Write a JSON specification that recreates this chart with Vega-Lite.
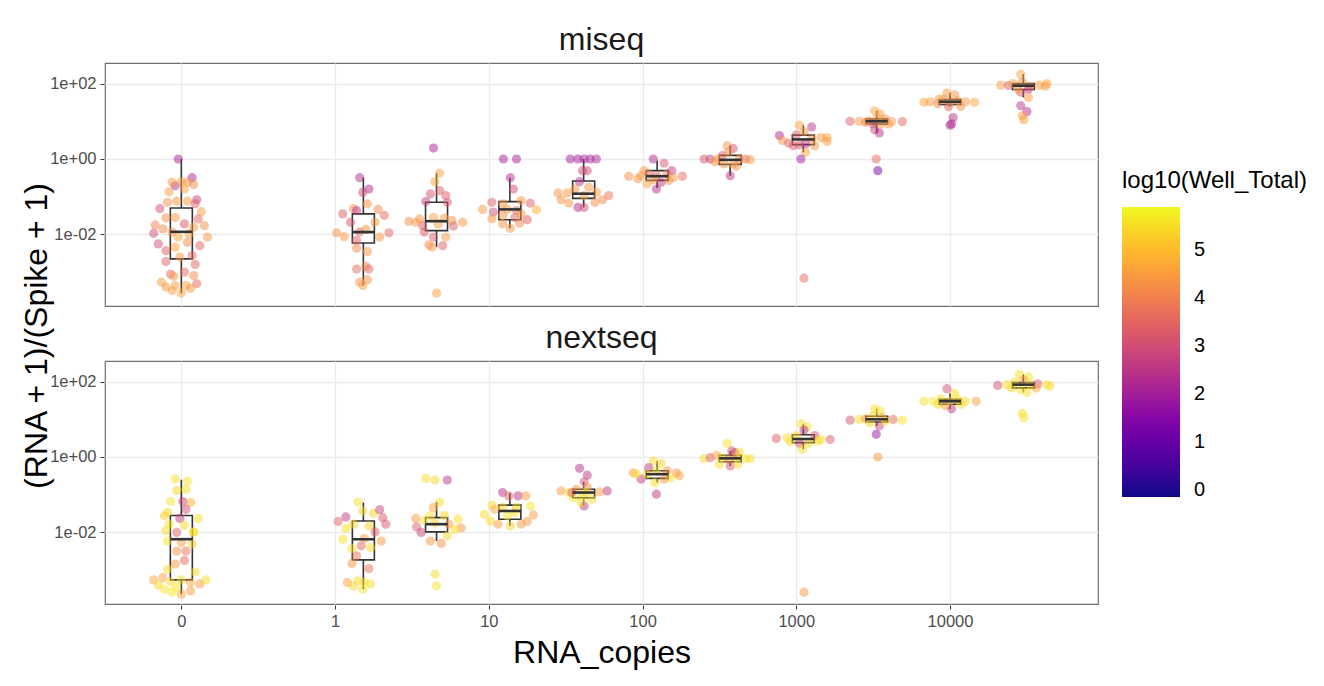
{
  "$schema": "https://vega.github.io/schema/vega-lite/v6.json",
  "padding": {"left": 20, "top": 23, "right": 5, "bottom": 5},
  "background": "white",
  "title": {"text": "(RNA + 1)/(Spike + 1)", "orient": "left", "anchor": "middle", "fontSize": 32, "fontWeight": "normal", "color": "#000", "offset": -4, "dx": 10},
  "data": {"values": [
    {"seq":"miseq","x":-1.0,"lo":0.000275,"q1":0.00224,"med":0.0117,"q3":0.05,"hi":1.0},
    {"seq":"miseq","x":0.184,"lo":0.00044,"q1":0.0059,"med":0.0115,"q3":0.035,"hi":0.32},
    {"seq":"miseq","x":0.66,"lo":0.0046,"q1":0.0126,"med":0.0224,"q3":0.071,"hi":0.42},
    {"seq":"miseq","x":1.137,"lo":0.0145,"q1":0.0245,"med":0.046,"q3":0.074,"hi":0.32},
    {"seq":"miseq","x":1.617,"lo":0.052,"q1":0.09,"med":0.12,"q3":0.26,"hi":1.0},
    {"seq":"miseq","x":2.095,"lo":0.17,"q1":0.27,"med":0.35,"q3":0.49,"hi":0.9},
    {"seq":"miseq","x":2.57,"lo":0.36,"q1":0.72,"med":0.95,"q3":1.25,"hi":2.25},
    {"seq":"miseq","x":3.046,"lo":1.5,"q1":2.4,"med":3.3,"q3":4.3,"hi":7.9},
    {"seq":"miseq","x":3.523,"lo":4.9,"q1":8.5,"med":10,"q3":11.5,"hi":19},
    {"seq":"miseq","x":4.0,"lo":24.5,"q1":28,"med":33,"q3":38,"hi":56},
    {"seq":"miseq","x":4.477,"lo":43,"q1":70,"med":88,"q3":100,"hi":178},
    {"seq":"nextseq","x":-1.0,"lo":0.00023,"q1":0.00055,"med":0.0066,"q3":0.028,"hi":0.25},
    {"seq":"nextseq","x":0.184,"lo":0.00031,"q1":0.00187,"med":0.0066,"q3":0.02,"hi":0.062},
    {"seq":"nextseq","x":0.66,"lo":0.0059,"q1":0.0103,"med":0.0165,"q3":0.0247,"hi":0.064},
    {"seq":"nextseq","x":1.137,"lo":0.0148,"q1":0.0224,"med":0.037,"q3":0.053,"hi":0.11},
    {"seq":"nextseq","x":1.617,"lo":0.05,"q1":0.083,"med":0.114,"q3":0.139,"hi":0.22},
    {"seq":"nextseq","x":2.095,"lo":0.21,"q1":0.27,"med":0.35,"q3":0.43,"hi":0.78},
    {"seq":"nextseq","x":2.57,"lo":0.58,"q1":0.75,"med":0.92,"q3":1.1,"hi":1.45},
    {"seq":"nextseq","x":3.046,"lo":1.6,"q1":2.4,"med":3.0,"q3":3.9,"hi":7.6},
    {"seq":"nextseq","x":3.523,"lo":6.6,"q1":8.5,"med":10,"q3":12,"hi":19},
    {"seq":"nextseq","x":4.0,"lo":19,"q1":25,"med":30,"q3":34,"hi":49},
    {"seq":"nextseq","x":4.477,"lo":52,"q1":68,"med":83,"q3":95,"hi":155},

    {"seq":"miseq","x":-1.02,"ratio":1.0,"lwt":2.0},
    {"seq":"miseq","x":-0.93,"ratio":0.32,"lwt":2.2},
    {"seq":"miseq","x":-1.04,"ratio":0.195,"lwt":2.3},
    {"seq":"miseq","x":-1.06,"ratio":0.24,"lwt":4.4},
    {"seq":"miseq","x":-1.0,"ratio":0.25,"lwt":4.6},
    {"seq":"miseq","x":-0.96,"ratio":0.24,"lwt":4.3},
    {"seq":"miseq","x":-0.92,"ratio":0.21,"lwt":4.2},
    {"seq":"miseq","x":-1.08,"ratio":0.135,"lwt":4.5},
    {"seq":"miseq","x":-0.98,"ratio":0.16,"lwt":4.6},
    {"seq":"miseq","x":-0.9,"ratio":0.083,"lwt":2.7},
    {"seq":"miseq","x":-1.09,"ratio":0.071,"lwt":4.3},
    {"seq":"miseq","x":-1.03,"ratio":0.076,"lwt":4.4},
    {"seq":"miseq","x":-0.96,"ratio":0.076,"lwt":4.5},
    {"seq":"miseq","x":-0.91,"ratio":0.065,"lwt":3.3},
    {"seq":"miseq","x":-1.14,"ratio":0.048,"lwt":3.0},
    {"seq":"miseq","x":-0.87,"ratio":0.04,"lwt":4.5},
    {"seq":"miseq","x":-1.1,"ratio":0.0275,"lwt":4.2},
    {"seq":"miseq","x":-1.04,"ratio":0.028,"lwt":4.4},
    {"seq":"miseq","x":-0.98,"ratio":0.019,"lwt":3.2},
    {"seq":"miseq","x":-0.89,"ratio":0.0257,"lwt":3.6},
    {"seq":"miseq","x":-1.17,"ratio":0.0178,"lwt":4.0},
    {"seq":"miseq","x":-0.85,"ratio":0.017,"lwt":4.3},
    {"seq":"miseq","x":-0.92,"ratio":0.0155,"lwt":4.5},
    {"seq":"miseq","x":-1.18,"ratio":0.0107,"lwt":3.0},
    {"seq":"miseq","x":-1.12,"ratio":0.014,"lwt":4.2},
    {"seq":"miseq","x":-0.83,"ratio":0.0085,"lwt":4.4},
    {"seq":"miseq","x":-1.15,"ratio":0.0056,"lwt":3.0},
    {"seq":"miseq","x":-1.1,"ratio":0.0037,"lwt":3.4},
    {"seq":"miseq","x":-1.04,"ratio":0.0046,"lwt":4.6},
    {"seq":"miseq","x":-0.96,"ratio":0.0062,"lwt":4.2},
    {"seq":"miseq","x":-0.88,"ratio":0.005,"lwt":3.5},
    {"seq":"miseq","x":-1.1,"ratio":0.0019,"lwt":3.4},
    {"seq":"miseq","x":-1.01,"ratio":0.0025,"lwt":4.4},
    {"seq":"miseq","x":-0.93,"ratio":0.00275,"lwt":3.6},
    {"seq":"miseq","x":-0.91,"ratio":0.0016,"lwt":3.5},
    {"seq":"miseq","x":-1.07,"ratio":0.00089,"lwt":3.6},
    {"seq":"miseq","x":-0.98,"ratio":0.001,"lwt":3.6},
    {"seq":"miseq","x":-0.92,"ratio":0.00081,"lwt":4.2},
    {"seq":"miseq","x":-1.05,"ratio":0.00078,"lwt":4.4},
    {"seq":"miseq","x":-1.13,"ratio":0.00054,"lwt":4.5},
    {"seq":"miseq","x":-1.1,"ratio":0.0004,"lwt":4.4},
    {"seq":"miseq","x":-1.04,"ratio":0.00044,"lwt":4.5},
    {"seq":"miseq","x":-0.97,"ratio":0.00044,"lwt":4.6},
    {"seq":"miseq","x":-0.9,"ratio":0.00049,"lwt":3.6},
    {"seq":"miseq","x":-1.06,"ratio":0.00032,"lwt":4.5},
    {"seq":"miseq","x":-1.0,"ratio":0.00028,"lwt":4.6},
    {"seq":"miseq","x":-0.94,"ratio":0.00037,"lwt":4.4},
    {"seq":"miseq","x":-1.02,"ratio":0.0085,"lwt":4.6},
    {"seq":"miseq","x":-1.06,"ratio":0.0115,"lwt":4.3},
    {"seq":"miseq","x":-0.95,"ratio":0.0103,"lwt":4.4},

    {"seq":"miseq","x":0.16,"ratio":0.32,"lwt":2.3},
    {"seq":"miseq","x":0.22,"ratio":0.16,"lwt":2.2},
    {"seq":"miseq","x":0.18,"ratio":0.13,"lwt":3.0},
    {"seq":"miseq","x":0.21,"ratio":0.065,"lwt":4.3},
    {"seq":"miseq","x":0.12,"ratio":0.048,"lwt":4.3},
    {"seq":"miseq","x":0.05,"ratio":0.035,"lwt":3.3},
    {"seq":"miseq","x":0.14,"ratio":0.043,"lwt":2.5},
    {"seq":"miseq","x":0.28,"ratio":0.046,"lwt":4.2},
    {"seq":"miseq","x":0.32,"ratio":0.032,"lwt":3.6},
    {"seq":"miseq","x":0.1,"ratio":0.021,"lwt":3.2},
    {"seq":"miseq","x":0.26,"ratio":0.021,"lwt":4.4},
    {"seq":"miseq","x":0.01,"ratio":0.011,"lwt":4.3},
    {"seq":"miseq","x":0.06,"ratio":0.0087,"lwt":4.4},
    {"seq":"miseq","x":0.16,"ratio":0.0115,"lwt":3.5},
    {"seq":"miseq","x":0.2,"ratio":0.0135,"lwt":4.4},
    {"seq":"miseq","x":0.35,"ratio":0.011,"lwt":3.5},
    {"seq":"miseq","x":0.29,"ratio":0.0085,"lwt":4.4},
    {"seq":"miseq","x":0.14,"ratio":0.0069,"lwt":3.4},
    {"seq":"miseq","x":0.14,"ratio":0.0043,"lwt":4.2},
    {"seq":"miseq","x":0.21,"ratio":0.0035,"lwt":4.4},
    {"seq":"miseq","x":0.14,"ratio":0.0012,"lwt":3.6},
    {"seq":"miseq","x":0.2,"ratio":0.00144,"lwt":4.2},
    {"seq":"miseq","x":0.22,"ratio":0.0012,"lwt":3.5},
    {"seq":"miseq","x":0.16,"ratio":0.00054,"lwt":4.4},
    {"seq":"miseq","x":0.21,"ratio":0.00063,"lwt":4.3},
    {"seq":"miseq","x":0.18,"ratio":0.00044,"lwt":4.5},

    {"seq":"miseq","x":0.64,"ratio":1.95,"lwt":2.1},
    {"seq":"miseq","x":0.68,"ratio":0.42,"lwt":4.6},
    {"seq":"miseq","x":0.65,"ratio":0.25,"lwt":4.6},
    {"seq":"miseq","x":0.68,"ratio":0.145,"lwt":3.4},
    {"seq":"miseq","x":0.62,"ratio":0.118,"lwt":3.2},
    {"seq":"miseq","x":0.72,"ratio":0.107,"lwt":3.3},
    {"seq":"miseq","x":0.59,"ratio":0.074,"lwt":2.7},
    {"seq":"miseq","x":0.73,"ratio":0.071,"lwt":3.2},
    {"seq":"miseq","x":0.64,"ratio":0.028,"lwt":4.5},
    {"seq":"miseq","x":0.48,"ratio":0.022,"lwt":4.2},
    {"seq":"miseq","x":0.55,"ratio":0.0257,"lwt":4.3},
    {"seq":"miseq","x":0.71,"ratio":0.027,"lwt":4.5},
    {"seq":"miseq","x":0.76,"ratio":0.0234,"lwt":4.3},
    {"seq":"miseq","x":0.83,"ratio":0.021,"lwt":4.4},
    {"seq":"miseq","x":0.57,"ratio":0.017,"lwt":3.4},
    {"seq":"miseq","x":0.67,"ratio":0.019,"lwt":4.4},
    {"seq":"miseq","x":0.77,"ratio":0.0166,"lwt":3.4},
    {"seq":"miseq","x":0.58,"ratio":0.0115,"lwt":3.3},
    {"seq":"miseq","x":0.64,"ratio":0.0085,"lwt":3.3},
    {"seq":"miseq","x":0.72,"ratio":0.0085,"lwt":4.5},
    {"seq":"miseq","x":0.61,"ratio":0.0053,"lwt":4.2},
    {"seq":"miseq","x":0.63,"ratio":0.0046,"lwt":4.4},
    {"seq":"miseq","x":0.7,"ratio":0.005,"lwt":3.4},
    {"seq":"miseq","x":0.66,"ratio":0.000275,"lwt":4.5},
    {"seq":"miseq","x":0.525,"ratio":0.021,"lwt":4.4},

    {"seq":"miseq","x":1.095,"ratio":1.0,"lwt":2.0},
    {"seq":"miseq","x":1.18,"ratio":1.0,"lwt":2.1},
    {"seq":"miseq","x":1.14,"ratio":0.32,"lwt":2.3},
    {"seq":"miseq","x":1.16,"ratio":0.16,"lwt":3.0},
    {"seq":"miseq","x":1.02,"ratio":0.071,"lwt":3.4},
    {"seq":"miseq","x":1.09,"ratio":0.065,"lwt":4.3},
    {"seq":"miseq","x":1.21,"ratio":0.079,"lwt":4.4},
    {"seq":"miseq","x":1.27,"ratio":0.067,"lwt":3.4},
    {"seq":"miseq","x":0.96,"ratio":0.046,"lwt":4.4},
    {"seq":"miseq","x":1.03,"ratio":0.039,"lwt":3.0},
    {"seq":"miseq","x":1.12,"ratio":0.046,"lwt":4.5},
    {"seq":"miseq","x":1.18,"ratio":0.043,"lwt":3.5},
    {"seq":"miseq","x":1.31,"ratio":0.045,"lwt":4.8},
    {"seq":"miseq","x":1.02,"ratio":0.026,"lwt":4.4},
    {"seq":"miseq","x":1.09,"ratio":0.032,"lwt":4.3},
    {"seq":"miseq","x":1.17,"ratio":0.028,"lwt":3.5},
    {"seq":"miseq","x":1.25,"ratio":0.0245,"lwt":3.4},
    {"seq":"miseq","x":1.09,"ratio":0.019,"lwt":4.4},
    {"seq":"miseq","x":1.14,"ratio":0.0145,"lwt":4.4},
    {"seq":"miseq","x":1.2,"ratio":0.02,"lwt":4.2},
    {"seq":"miseq","x":1.21,"ratio":0.035,"lwt":4.5},

    {"seq":"miseq","x":1.53,"ratio":1.0,"lwt":2.0},
    {"seq":"miseq","x":1.58,"ratio":1.0,"lwt":2.0},
    {"seq":"miseq","x":1.62,"ratio":1.0,"lwt":2.1},
    {"seq":"miseq","x":1.66,"ratio":1.0,"lwt":2.0},
    {"seq":"miseq","x":1.7,"ratio":1.0,"lwt":2.2},
    {"seq":"miseq","x":1.61,"ratio":0.49,"lwt":2.8},
    {"seq":"miseq","x":1.64,"ratio":0.49,"lwt":3.0},
    {"seq":"miseq","x":1.59,"ratio":0.25,"lwt":2.4},
    {"seq":"miseq","x":1.65,"ratio":0.178,"lwt":4.4},
    {"seq":"miseq","x":1.56,"ratio":0.16,"lwt":4.3},
    {"seq":"miseq","x":1.45,"ratio":0.126,"lwt":4.3},
    {"seq":"miseq","x":1.51,"ratio":0.126,"lwt":4.4},
    {"seq":"miseq","x":1.7,"ratio":0.13,"lwt":4.5},
    {"seq":"miseq","x":1.78,"ratio":0.107,"lwt":3.8},
    {"seq":"miseq","x":1.47,"ratio":0.083,"lwt":4.3},
    {"seq":"miseq","x":1.52,"ratio":0.068,"lwt":4.4},
    {"seq":"miseq","x":1.62,"ratio":0.107,"lwt":4.6},
    {"seq":"miseq","x":1.69,"ratio":0.071,"lwt":4.3},
    {"seq":"miseq","x":1.58,"ratio":0.052,"lwt":2.3},
    {"seq":"miseq","x":1.62,"ratio":0.052,"lwt":3.0},
    {"seq":"miseq","x":1.74,"ratio":0.083,"lwt":4.2},

    {"seq":"miseq","x":2.07,"ratio":1.0,"lwt":2.2},
    {"seq":"miseq","x":2.14,"ratio":0.77,"lwt":3.2},
    {"seq":"miseq","x":2.01,"ratio":0.49,"lwt":4.4},
    {"seq":"miseq","x":1.91,"ratio":0.35,"lwt":4.3},
    {"seq":"miseq","x":1.97,"ratio":0.3,"lwt":4.3},
    {"seq":"miseq","x":2.04,"ratio":0.4,"lwt":3.6},
    {"seq":"miseq","x":2.09,"ratio":0.36,"lwt":3.5},
    {"seq":"miseq","x":2.16,"ratio":0.4,"lwt":4.2},
    {"seq":"miseq","x":2.19,"ratio":0.49,"lwt":2.7},
    {"seq":"miseq","x":2.26,"ratio":0.35,"lwt":3.6},
    {"seq":"miseq","x":2.03,"ratio":0.22,"lwt":4.5},
    {"seq":"miseq","x":2.09,"ratio":0.16,"lwt":2.4},
    {"seq":"miseq","x":2.12,"ratio":0.24,"lwt":2.6},
    {"seq":"miseq","x":2.17,"ratio":0.27,"lwt":4.3},
    {"seq":"miseq","x":1.99,"ratio":0.36,"lwt":4.5},
    {"seq":"miseq","x":2.07,"ratio":0.28,"lwt":4.5},
    {"seq":"miseq","x":2.2,"ratio":0.32,"lwt":4.4},

    {"seq":"miseq","x":2.4,"ratio":1.0,"lwt":3.2},
    {"seq":"miseq","x":2.44,"ratio":1.0,"lwt":2.8},
    {"seq":"miseq","x":2.47,"ratio":0.85,"lwt":4.3},
    {"seq":"miseq","x":2.52,"ratio":1.23,"lwt":3.4},
    {"seq":"miseq","x":2.55,"ratio":2.25,"lwt":4.4},
    {"seq":"miseq","x":2.59,"ratio":1.9,"lwt":3.2},
    {"seq":"miseq","x":2.56,"ratio":1.5,"lwt":4.3},
    {"seq":"miseq","x":2.53,"ratio":0.74,"lwt":4.4},
    {"seq":"miseq","x":2.59,"ratio":0.74,"lwt":4.5},
    {"seq":"miseq","x":2.63,"ratio":1.0,"lwt":4.4},
    {"seq":"miseq","x":2.67,"ratio":1.0,"lwt":3.6},
    {"seq":"miseq","x":2.7,"ratio":0.96,"lwt":4.4},
    {"seq":"miseq","x":2.57,"ratio":0.36,"lwt":2.6},
    {"seq":"miseq","x":2.49,"ratio":1.0,"lwt":4.5},
    {"seq":"miseq","x":2.61,"ratio":0.64,"lwt":4.3},

    {"seq":"miseq","x":3.02,"ratio":7.9,"lwt":4.6},
    {"seq":"miseq","x":3.1,"ratio":7.1,"lwt":2.5},
    {"seq":"miseq","x":2.89,"ratio":4.2,"lwt":2.2},
    {"seq":"miseq","x":2.91,"ratio":3.1,"lwt":4.4},
    {"seq":"miseq","x":2.95,"ratio":2.65,"lwt":3.4},
    {"seq":"miseq","x":3.0,"ratio":4.35,"lwt":3.3},
    {"seq":"miseq","x":3.05,"ratio":5.3,"lwt":4.4},
    {"seq":"miseq","x":3.1,"ratio":3.5,"lwt":4.3},
    {"seq":"miseq","x":3.16,"ratio":3.7,"lwt":4.4},
    {"seq":"miseq","x":3.2,"ratio":3.7,"lwt":4.6},
    {"seq":"miseq","x":3.2,"ratio":2.9,"lwt":4.4},
    {"seq":"miseq","x":3.02,"ratio":2.35,"lwt":3.2},
    {"seq":"miseq","x":3.06,"ratio":2.5,"lwt":2.5},
    {"seq":"miseq","x":2.98,"ratio":2.25,"lwt":3.3},
    {"seq":"miseq","x":3.12,"ratio":2.25,"lwt":4.4},
    {"seq":"miseq","x":3.06,"ratio":1.5,"lwt":4.6},
    {"seq":"miseq","x":3.03,"ratio":1.0,"lwt":1.9},
    {"seq":"miseq","x":3.05,"ratio":0.00069,"lwt":3.6},

    {"seq":"miseq","x":3.51,"ratio":19,"lwt":4.6},
    {"seq":"miseq","x":3.545,"ratio":15.5,"lwt":4.5},
    {"seq":"miseq","x":3.35,"ratio":10,"lwt":3.3},
    {"seq":"miseq","x":3.41,"ratio":10,"lwt":4.5},
    {"seq":"miseq","x":3.47,"ratio":10.2,"lwt":4.3},
    {"seq":"miseq","x":3.525,"ratio":12.2,"lwt":4.5},
    {"seq":"miseq","x":3.58,"ratio":11.5,"lwt":4.3},
    {"seq":"miseq","x":3.62,"ratio":9.8,"lwt":4.5},
    {"seq":"miseq","x":3.69,"ratio":9.8,"lwt":3.6},
    {"seq":"miseq","x":3.5,"ratio":8.5,"lwt":3.3},
    {"seq":"miseq","x":3.51,"ratio":6.0,"lwt":2.9},
    {"seq":"miseq","x":3.54,"ratio":4.9,"lwt":2.4},
    {"seq":"miseq","x":3.55,"ratio":8.5,"lwt":4.4},
    {"seq":"miseq","x":3.45,"ratio":9.3,"lwt":4.2},
    {"seq":"miseq","x":3.52,"ratio":1.0,"lwt":3.6},
    {"seq":"miseq","x":3.53,"ratio":0.49,"lwt":1.2},
    {"seq":"miseq","x":3.6,"ratio":8.5,"lwt":4.4},

    {"seq":"miseq","x":3.98,"ratio":56,"lwt":4.5},
    {"seq":"miseq","x":4.03,"ratio":50,"lwt":4.4},
    {"seq":"miseq","x":3.83,"ratio":32,"lwt":4.6},
    {"seq":"miseq","x":3.87,"ratio":33,"lwt":4.5},
    {"seq":"miseq","x":3.92,"ratio":29,"lwt":4.2},
    {"seq":"miseq","x":3.96,"ratio":39,"lwt":4.4},
    {"seq":"miseq","x":4.0,"ratio":32,"lwt":4.6},
    {"seq":"miseq","x":4.05,"ratio":35,"lwt":4.3},
    {"seq":"miseq","x":4.1,"ratio":33,"lwt":4.4},
    {"seq":"miseq","x":4.16,"ratio":32,"lwt":4.6},
    {"seq":"miseq","x":3.99,"ratio":24.5,"lwt":3.4},
    {"seq":"miseq","x":4.07,"ratio":25,"lwt":4.3},
    {"seq":"miseq","x":4.02,"ratio":12.5,"lwt":2.4},
    {"seq":"miseq","x":4.0,"ratio":7.9,"lwt":2.2},
    {"seq":"miseq","x":4.01,"ratio":8.5,"lwt":2.3},
    {"seq":"miseq","x":3.93,"ratio":39,"lwt":4.5},

    {"seq":"miseq","x":4.46,"ratio":178,"lwt":4.6},
    {"seq":"miseq","x":4.33,"ratio":91,"lwt":4.5},
    {"seq":"miseq","x":4.38,"ratio":89,"lwt":3.3},
    {"seq":"miseq","x":4.41,"ratio":100,"lwt":4.5},
    {"seq":"miseq","x":4.47,"ratio":112,"lwt":4.4},
    {"seq":"miseq","x":4.52,"ratio":85,"lwt":4.3},
    {"seq":"miseq","x":4.58,"ratio":91,"lwt":4.5},
    {"seq":"miseq","x":4.62,"ratio":85,"lwt":4.4},
    {"seq":"miseq","x":4.63,"ratio":100,"lwt":4.6},
    {"seq":"miseq","x":4.51,"ratio":71,"lwt":2.5},
    {"seq":"miseq","x":4.46,"ratio":59,"lwt":3.2},
    {"seq":"miseq","x":4.51,"ratio":43,"lwt":4.4},
    {"seq":"miseq","x":4.46,"ratio":26,"lwt":2.5},
    {"seq":"miseq","x":4.5,"ratio":18,"lwt":2.3},
    {"seq":"miseq","x":4.47,"ratio":14,"lwt":4.6},
    {"seq":"miseq","x":4.48,"ratio":11,"lwt":4.5},
    {"seq":"miseq","x":4.44,"ratio":71,"lwt":4.4},

    {"seq":"nextseq","x":-1.04,"ratio":0.26,"lwt":5.5},
    {"seq":"nextseq","x":-0.96,"ratio":0.23,"lwt":5.6},
    {"seq":"nextseq","x":-1.03,"ratio":0.13,"lwt":5.4},
    {"seq":"nextseq","x":-0.97,"ratio":0.14,"lwt":5.5},
    {"seq":"nextseq","x":-1.07,"ratio":0.066,"lwt":5.6},
    {"seq":"nextseq","x":-0.99,"ratio":0.066,"lwt":2.8},
    {"seq":"nextseq","x":-0.94,"ratio":0.062,"lwt":4.8},
    {"seq":"nextseq","x":-0.97,"ratio":0.041,"lwt":3.0},
    {"seq":"nextseq","x":-1.11,"ratio":0.0275,"lwt":5.3},
    {"seq":"nextseq","x":-1.01,"ratio":0.0234,"lwt":2.6},
    {"seq":"nextseq","x":-0.89,"ratio":0.0234,"lwt":5.5},
    {"seq":"nextseq","x":-1.08,"ratio":0.0165,"lwt":5.6},
    {"seq":"nextseq","x":-0.98,"ratio":0.0155,"lwt":5.4},
    {"seq":"nextseq","x":-1.1,"ratio":0.011,"lwt":5.5},
    {"seq":"nextseq","x":-1.03,"ratio":0.01,"lwt":3.4},
    {"seq":"nextseq","x":-0.92,"ratio":0.0103,"lwt":5.5},
    {"seq":"nextseq","x":-1.09,"ratio":0.0059,"lwt":5.6},
    {"seq":"nextseq","x":-1.0,"ratio":0.0054,"lwt":4.5},
    {"seq":"nextseq","x":-0.93,"ratio":0.0049,"lwt":5.3},
    {"seq":"nextseq","x":-1.03,"ratio":0.0032,"lwt":4.3},
    {"seq":"nextseq","x":-0.97,"ratio":0.0032,"lwt":3.7},
    {"seq":"nextseq","x":-0.98,"ratio":0.0018,"lwt":3.6},
    {"seq":"nextseq","x":-1.04,"ratio":0.00144,"lwt":4.5},
    {"seq":"nextseq","x":-1.09,"ratio":0.00105,"lwt":5.5},
    {"seq":"nextseq","x":-0.91,"ratio":0.00089,"lwt":5.4},
    {"seq":"nextseq","x":-1.18,"ratio":0.00055,"lwt":4.6},
    {"seq":"nextseq","x":-1.12,"ratio":0.00063,"lwt":4.5},
    {"seq":"nextseq","x":-1.07,"ratio":0.00049,"lwt":5.4},
    {"seq":"nextseq","x":-1.0,"ratio":0.00055,"lwt":5.6},
    {"seq":"nextseq","x":-0.94,"ratio":0.00047,"lwt":4.6},
    {"seq":"nextseq","x":-0.88,"ratio":0.00043,"lwt":4.5},
    {"seq":"nextseq","x":-0.84,"ratio":0.00055,"lwt":5.5},
    {"seq":"nextseq","x":-1.11,"ratio":0.00031,"lwt":5.6},
    {"seq":"nextseq","x":-1.06,"ratio":0.00026,"lwt":5.7},
    {"seq":"nextseq","x":-1.0,"ratio":0.00023,"lwt":4.6},
    {"seq":"nextseq","x":-0.94,"ratio":0.00028,"lwt":4.5},
    {"seq":"nextseq","x":-1.15,"ratio":0.0004,"lwt":5.5},
    {"seq":"nextseq","x":-1.03,"ratio":0.00035,"lwt":5.6},
    {"seq":"nextseq","x":-1.09,"ratio":0.034,"lwt":5.4},
    {"seq":"nextseq","x":-0.92,"ratio":0.01,"lwt":5.6},

    {"seq":"nextseq","x":0.15,"ratio":0.064,"lwt":5.5},
    {"seq":"nextseq","x":0.18,"ratio":0.037,"lwt":5.4},
    {"seq":"nextseq","x":0.25,"ratio":0.032,"lwt":5.3},
    {"seq":"nextseq","x":0.29,"ratio":0.04,"lwt":2.8},
    {"seq":"nextseq","x":0.31,"ratio":0.0246,"lwt":3.3},
    {"seq":"nextseq","x":0.33,"ratio":0.0165,"lwt":3.2},
    {"seq":"nextseq","x":0.07,"ratio":0.0257,"lwt":2.6},
    {"seq":"nextseq","x":0.02,"ratio":0.0195,"lwt":3.5},
    {"seq":"nextseq","x":0.12,"ratio":0.0165,"lwt":5.4},
    {"seq":"nextseq","x":0.07,"ratio":0.0126,"lwt":5.5},
    {"seq":"nextseq","x":0.22,"ratio":0.0148,"lwt":5.4},
    {"seq":"nextseq","x":0.26,"ratio":0.0103,"lwt":3.4},
    {"seq":"nextseq","x":0.05,"ratio":0.0066,"lwt":5.5},
    {"seq":"nextseq","x":0.19,"ratio":0.0069,"lwt":4.6},
    {"seq":"nextseq","x":0.3,"ratio":0.0059,"lwt":4.4},
    {"seq":"nextseq","x":0.11,"ratio":0.0037,"lwt":5.6},
    {"seq":"nextseq","x":0.17,"ratio":0.0044,"lwt":3.5},
    {"seq":"nextseq","x":0.23,"ratio":0.004,"lwt":5.5},
    {"seq":"nextseq","x":0.14,"ratio":0.0024,"lwt":3.7},
    {"seq":"nextseq","x":0.11,"ratio":0.0015,"lwt":4.4},
    {"seq":"nextseq","x":0.22,"ratio":0.0011,"lwt":3.7},
    {"seq":"nextseq","x":0.08,"ratio":0.00047,"lwt":4.6},
    {"seq":"nextseq","x":0.15,"ratio":0.00052,"lwt":5.5},
    {"seq":"nextseq","x":0.19,"ratio":0.00047,"lwt":5.6},
    {"seq":"nextseq","x":0.23,"ratio":0.00043,"lwt":5.5},
    {"seq":"nextseq","x":0.18,"ratio":0.00031,"lwt":5.6},
    {"seq":"nextseq","x":0.12,"ratio":0.00038,"lwt":5.4},

    {"seq":"nextseq","x":0.59,"ratio":0.27,"lwt":5.5},
    {"seq":"nextseq","x":0.65,"ratio":0.245,"lwt":5.4},
    {"seq":"nextseq","x":0.73,"ratio":0.245,"lwt":2.5},
    {"seq":"nextseq","x":0.68,"ratio":0.064,"lwt":5.5},
    {"seq":"nextseq","x":0.64,"ratio":0.046,"lwt":4.6},
    {"seq":"nextseq","x":0.525,"ratio":0.0234,"lwt":4.5},
    {"seq":"nextseq","x":0.62,"ratio":0.028,"lwt":5.6},
    {"seq":"nextseq","x":0.71,"ratio":0.028,"lwt":5.5},
    {"seq":"nextseq","x":0.8,"ratio":0.0224,"lwt":5.5},
    {"seq":"nextseq","x":0.53,"ratio":0.014,"lwt":3.4},
    {"seq":"nextseq","x":0.56,"ratio":0.01,"lwt":2.8},
    {"seq":"nextseq","x":0.65,"ratio":0.018,"lwt":5.4},
    {"seq":"nextseq","x":0.74,"ratio":0.0165,"lwt":4.5},
    {"seq":"nextseq","x":0.82,"ratio":0.013,"lwt":4.4},
    {"seq":"nextseq","x":0.73,"ratio":0.0081,"lwt":5.5},
    {"seq":"nextseq","x":0.62,"ratio":0.0059,"lwt":4.4},
    {"seq":"nextseq","x":0.69,"ratio":0.0051,"lwt":4.3},
    {"seq":"nextseq","x":0.65,"ratio":0.00078,"lwt":5.5},
    {"seq":"nextseq","x":0.66,"ratio":0.00038,"lwt":5.6},
    {"seq":"nextseq","x":0.78,"ratio":0.012,"lwt":5.5},
    {"seq":"nextseq","x":0.58,"ratio":0.021,"lwt":5.6},

    {"seq":"nextseq","x":1.09,"ratio":0.114,"lwt":2.4},
    {"seq":"nextseq","x":1.19,"ratio":0.093,"lwt":2.5},
    {"seq":"nextseq","x":1.24,"ratio":0.093,"lwt":4.5},
    {"seq":"nextseq","x":1.13,"ratio":0.093,"lwt":3.5},
    {"seq":"nextseq","x":1.02,"ratio":0.053,"lwt":5.5},
    {"seq":"nextseq","x":0.97,"ratio":0.03,"lwt":5.5},
    {"seq":"nextseq","x":1.04,"ratio":0.041,"lwt":4.6},
    {"seq":"nextseq","x":1.09,"ratio":0.046,"lwt":5.4},
    {"seq":"nextseq","x":1.18,"ratio":0.046,"lwt":5.5},
    {"seq":"nextseq","x":1.27,"ratio":0.05,"lwt":5.6},
    {"seq":"nextseq","x":1.29,"ratio":0.029,"lwt":4.5},
    {"seq":"nextseq","x":1.01,"ratio":0.02,"lwt":5.5},
    {"seq":"nextseq","x":1.06,"ratio":0.0165,"lwt":4.5},
    {"seq":"nextseq","x":1.14,"ratio":0.0148,"lwt":5.4},
    {"seq":"nextseq","x":1.21,"ratio":0.0165,"lwt":4.5},
    {"seq":"nextseq","x":1.25,"ratio":0.0195,"lwt":4.4},
    {"seq":"nextseq","x":1.12,"ratio":0.0275,"lwt":5.6},
    {"seq":"nextseq","x":1.17,"ratio":0.034,"lwt":5.5},

    {"seq":"nextseq","x":1.59,"ratio":0.5,"lwt":2.4},
    {"seq":"nextseq","x":1.64,"ratio":0.33,"lwt":2.5},
    {"seq":"nextseq","x":1.62,"ratio":0.22,"lwt":3.2},
    {"seq":"nextseq","x":1.47,"ratio":0.126,"lwt":4.5},
    {"seq":"nextseq","x":1.52,"ratio":0.114,"lwt":5.5},
    {"seq":"nextseq","x":1.57,"ratio":0.139,"lwt":4.4},
    {"seq":"nextseq","x":1.64,"ratio":0.154,"lwt":4.3},
    {"seq":"nextseq","x":1.72,"ratio":0.118,"lwt":4.5},
    {"seq":"nextseq","x":1.77,"ratio":0.126,"lwt":2.6},
    {"seq":"nextseq","x":1.55,"ratio":0.083,"lwt":5.6},
    {"seq":"nextseq","x":1.61,"ratio":0.093,"lwt":5.4},
    {"seq":"nextseq","x":1.67,"ratio":0.076,"lwt":5.5},
    {"seq":"nextseq","x":1.62,"ratio":0.05,"lwt":2.7},
    {"seq":"nextseq","x":1.54,"ratio":0.114,"lwt":3.4},
    {"seq":"nextseq","x":1.63,"ratio":0.114,"lwt":5.6},
    {"seq":"nextseq","x":1.6,"ratio":0.062,"lwt":5.5},

    {"seq":"nextseq","x":2.07,"ratio":0.78,"lwt":5.5},
    {"seq":"nextseq","x":2.04,"ratio":0.52,"lwt":2.6},
    {"seq":"nextseq","x":2.12,"ratio":0.68,"lwt":5.4},
    {"seq":"nextseq","x":1.94,"ratio":0.38,"lwt":4.5},
    {"seq":"nextseq","x":1.99,"ratio":0.26,"lwt":2.6},
    {"seq":"nextseq","x":2.03,"ratio":0.35,"lwt":5.5},
    {"seq":"nextseq","x":2.09,"ratio":0.43,"lwt":5.6},
    {"seq":"nextseq","x":2.16,"ratio":0.43,"lwt":4.4},
    {"seq":"nextseq","x":2.22,"ratio":0.38,"lwt":4.5},
    {"seq":"nextseq","x":2.24,"ratio":0.32,"lwt":4.6},
    {"seq":"nextseq","x":2.08,"ratio":0.21,"lwt":5.5},
    {"seq":"nextseq","x":2.09,"ratio":0.103,"lwt":2.5},
    {"seq":"nextseq","x":2.18,"ratio":0.28,"lwt":5.5},
    {"seq":"nextseq","x":2.14,"ratio":0.26,"lwt":4.3},
    {"seq":"nextseq","x":1.96,"ratio":0.35,"lwt":5.5},

    {"seq":"nextseq","x":2.4,"ratio":0.91,"lwt":5.5},
    {"seq":"nextseq","x":2.44,"ratio":0.96,"lwt":3.3},
    {"seq":"nextseq","x":2.48,"ratio":1.1,"lwt":4.5},
    {"seq":"nextseq","x":2.55,"ratio":2.3,"lwt":5.6},
    {"seq":"nextseq","x":2.58,"ratio":1.45,"lwt":3.2},
    {"seq":"nextseq","x":2.6,"ratio":1.3,"lwt":2.6},
    {"seq":"nextseq","x":2.63,"ratio":1.35,"lwt":5.5},
    {"seq":"nextseq","x":2.52,"ratio":0.96,"lwt":5.6},
    {"seq":"nextseq","x":2.56,"ratio":0.87,"lwt":4.6},
    {"seq":"nextseq","x":2.61,"ratio":0.96,"lwt":5.4},
    {"seq":"nextseq","x":2.67,"ratio":0.91,"lwt":5.6},
    {"seq":"nextseq","x":2.7,"ratio":0.91,"lwt":5.5},
    {"seq":"nextseq","x":2.57,"ratio":0.58,"lwt":3.2},
    {"seq":"nextseq","x":2.5,"ratio":0.64,"lwt":5.5},
    {"seq":"nextseq","x":2.62,"ratio":0.64,"lwt":5.5},

    {"seq":"nextseq","x":3.03,"ratio":7.6,"lwt":5.5},
    {"seq":"nextseq","x":3.07,"ratio":6.3,"lwt":5.6},
    {"seq":"nextseq","x":3.05,"ratio":5.2,"lwt":2.5},
    {"seq":"nextseq","x":2.87,"ratio":3.1,"lwt":3.3},
    {"seq":"nextseq","x":2.94,"ratio":3.25,"lwt":5.5},
    {"seq":"nextseq","x":3.0,"ratio":3.7,"lwt":5.4},
    {"seq":"nextseq","x":3.12,"ratio":3.7,"lwt":3.2},
    {"seq":"nextseq","x":3.16,"ratio":2.9,"lwt":5.6},
    {"seq":"nextseq","x":3.22,"ratio":2.9,"lwt":3.3},
    {"seq":"nextseq","x":3.02,"ratio":2.3,"lwt":3.1},
    {"seq":"nextseq","x":3.08,"ratio":2.3,"lwt":5.5},
    {"seq":"nextseq","x":2.96,"ratio":2.5,"lwt":5.6},
    {"seq":"nextseq","x":3.04,"ratio":1.6,"lwt":5.5},
    {"seq":"nextseq","x":3.05,"ratio":0.00026,"lwt":4.4},
    {"seq":"nextseq","x":3.14,"ratio":2.65,"lwt":5.5},

    {"seq":"nextseq","x":3.51,"ratio":19,"lwt":5.5},
    {"seq":"nextseq","x":3.545,"ratio":16.5,"lwt":5.6},
    {"seq":"nextseq","x":3.35,"ratio":9.5,"lwt":3.2},
    {"seq":"nextseq","x":3.41,"ratio":9.9,"lwt":5.5},
    {"seq":"nextseq","x":3.45,"ratio":10.3,"lwt":4.5},
    {"seq":"nextseq","x":3.5,"ratio":12.2,"lwt":5.4},
    {"seq":"nextseq","x":3.56,"ratio":11,"lwt":4.6},
    {"seq":"nextseq","x":3.63,"ratio":9.9,"lwt":3.6},
    {"seq":"nextseq","x":3.69,"ratio":9.5,"lwt":5.6},
    {"seq":"nextseq","x":3.54,"ratio":6.6,"lwt":3.0},
    {"seq":"nextseq","x":3.52,"ratio":4.0,"lwt":1.8},
    {"seq":"nextseq","x":3.53,"ratio":1.0,"lwt":4.4},
    {"seq":"nextseq","x":3.58,"ratio":9.0,"lwt":5.5},
    {"seq":"nextseq","x":3.48,"ratio":8.1,"lwt":5.5},

    {"seq":"nextseq","x":3.98,"ratio":65,"lwt":3.1},
    {"seq":"nextseq","x":4.03,"ratio":49,"lwt":5.5},
    {"seq":"nextseq","x":3.83,"ratio":30,"lwt":5.5},
    {"seq":"nextseq","x":3.89,"ratio":30,"lwt":5.6},
    {"seq":"nextseq","x":3.94,"ratio":35,"lwt":5.5},
    {"seq":"nextseq","x":4.0,"ratio":30,"lwt":5.4},
    {"seq":"nextseq","x":4.05,"ratio":34,"lwt":5.6},
    {"seq":"nextseq","x":4.1,"ratio":30,"lwt":5.5},
    {"seq":"nextseq","x":4.17,"ratio":30,"lwt":4.5},
    {"seq":"nextseq","x":3.92,"ratio":25,"lwt":5.5},
    {"seq":"nextseq","x":4.01,"ratio":19,"lwt":2.6},
    {"seq":"nextseq","x":4.07,"ratio":25,"lwt":5.5},
    {"seq":"nextseq","x":3.97,"ratio":23,"lwt":4.6},

    {"seq":"nextseq","x":4.45,"ratio":155,"lwt":5.5},
    {"seq":"nextseq","x":4.51,"ratio":135,"lwt":5.6},
    {"seq":"nextseq","x":4.31,"ratio":79,"lwt":3.1},
    {"seq":"nextseq","x":4.37,"ratio":83,"lwt":5.5},
    {"seq":"nextseq","x":4.42,"ratio":97,"lwt":5.4},
    {"seq":"nextseq","x":4.48,"ratio":110,"lwt":4.5},
    {"seq":"nextseq","x":4.52,"ratio":83,"lwt":5.5},
    {"seq":"nextseq","x":4.57,"ratio":87,"lwt":3.3},
    {"seq":"nextseq","x":4.63,"ratio":83,"lwt":5.6},
    {"seq":"nextseq","x":4.65,"ratio":76,"lwt":5.5},
    {"seq":"nextseq","x":4.46,"ratio":62,"lwt":5.6},
    {"seq":"nextseq","x":4.5,"ratio":52,"lwt":5.5},
    {"seq":"nextseq","x":4.47,"ratio":14.4,"lwt":5.5},
    {"seq":"nextseq","x":4.48,"ratio":11,"lwt":5.6},
    {"seq":"nextseq","x":4.56,"ratio":68,"lwt":4.6},
    {"seq":"nextseq","x":4.4,"ratio":68,"lwt":5.5}
  ]},
  "facet": {
    "field": "seq",
    "type": "nominal",
    "header": {"title": null, "labelFontSize": 32, "labelPadding": 6, "labelColor": "#1a1a1a"}
  },
  "columns": 1,
  "spacing": 14,
  "spec": {
    "width": 993,
    "height": 243,
    "layer": [
      {
        "transform": [{"filter": "isValid(datum.med)"}],
        "mark": {"type": "rule", "color": "#333333", "strokeWidth": 1.6},
        "encoding": {
          "x": {"field": "x", "type": "quantitative", "scale": {"domain": [-1.464, 4.93], "nice": false, "zero": false},
            "axis": {"values": [-1, 0, 1, 2, 3, 4], "labelExpr": "datum.value == -1 ? '0' : format(pow(10, datum.value), 'd')", "title": "RNA_copies"}},
          "y": {"field": "lo", "type": "quantitative", "scale": {"type": "log", "domain": [0.000126, 351.6], "nice": false},
            "axis": {"values": [0.01, 1, 100], "labelExpr": "datum.value >= 10 ? '1e+02' : datum.value >= 0.1 ? '1e+00' : '1e-02'", "title": null}},
          "y2": {"field": "hi"}
        }
      },
      {
        "transform": [{"filter": "isValid(datum.med)"}],
        "mark": {"type": "bar", "size": 22, "fill": "white", "stroke": "#333333", "strokeWidth": 1.6},
        "encoding": {
          "x": {"field": "x", "type": "quantitative"},
          "y": {"field": "q1", "type": "quantitative", "title": null},
          "y2": {"field": "q3"}
        }
      },
      {
        "transform": [{"filter": "isValid(datum.ratio)"}],
        "mark": {"type": "point", "filled": true, "size": 85, "fillOpacity": 0.5, "strokeWidth": 0},
        "encoding": {
          "x": {"field": "x", "type": "quantitative"},
          "y": {"field": "ratio", "type": "quantitative", "title": null},
          "color": {"field": "lwt", "type": "quantitative",
            "scale": {"scheme": "plasma", "domain": [-0.15, 5.9]},
            "legend": {"title": "log10(Well_Total)", "titleLimit": 400, "values": [0, 1, 2, 3, 4, 5], "orient": "none", "legendX": 1017, "legendY": 106,
              "gradientLength": 290, "gradientThickness": 58, "labelOverlap": false, "labelOffset": 14}}
        }
      },
      {
        "transform": [{"filter": "isValid(datum.med)"}],
        "mark": {"type": "tick", "orient": "horizontal", "size": 22, "thickness": 2.6, "color": "#333333", "opacity": 1},
        "encoding": {
          "x": {"field": "x", "type": "quantitative"},
          "y": {"field": "med", "type": "quantitative", "title": null}
        }
      }
    ]
  },
  "config": {
    "font": "Liberation Sans",
    "view": {"stroke": "#6e6e6e", "strokeWidth": 1.2},
    "axis": {"domain": false, "gridColor": "#ebebeb", "gridWidth": 1.3, "tickColor": "#333333", "tickSize": 4,
      "labelFontSize": 16.5, "labelColor": "#4d4d4d", "labelPadding": 4,
      "titleFontSize": 32, "titleFontWeight": "normal", "titleColor": "#000000", "titlePadding": 8},
    "legend": {"titleFontSize": 24, "titleFontWeight": "normal", "titleColor": "#000000", "titlePadding": 14,
      "labelFontSize": 20, "labelColor": "#000000", "gradientStrokeWidth": 0}
  }
}
